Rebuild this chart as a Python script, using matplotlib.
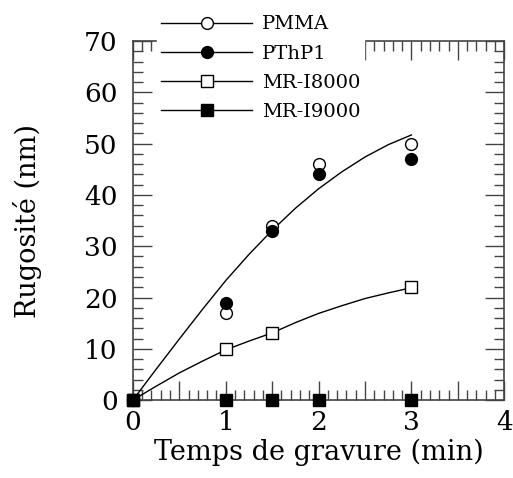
import matplotlib
matplotlib.use('Agg')
import matplotlib.pyplot as plt
from matplotlib.lines import Line2D
from matplotlib.ticker import MultipleLocator, FuncFormatter

plt.rcParams['font.family'] = ['DejaVu Serif']

# Données mesurées
temps = [0, 1, 1.5, 2, 3]
pmma = [0, 17, 34, 46, 50]
pthp1 = [0, 19, 33, 44, 47]
temps_i8000 = [0, 1, 1.5, 3]
mr_i8000 = [0, 10, 13, 22]
mr_i9000 = [0, 0, 0, 0, 0]

# Courbes d'ajustement
fit_x = [0, 0.25, 0.5, 0.75, 1, 1.25, 1.5, 1.75, 2, 2.25, 2.5, 2.75, 3]
fit_haut = [0, 6.0, 11.9, 17.7, 23.3, 28.4, 33.1, 37.4, 41.2, 44.5, 47.4, 49.8, 51.7]
fit_bas = [0, 2.7, 5.3, 7.6, 9.8, 11.5, 13.1, 15.1, 16.9, 18.4, 19.8, 20.9, 21.9]

fig = plt.figure(figsize=(5.13, 4.78), dpi=100)
ax = fig.add_axes([0.259, 0.163, 0.724, 0.751])

ax.plot(fit_x, fit_haut, color='black', lw=1)
ax.plot(fit_x, fit_bas, color='black', lw=1)

ms = 8.5
ax.plot(temps, pmma, 'o', mfc='white', mec='black', ms=ms, clip_on=False, zorder=5)
ax.plot(temps, pthp1, 'o', mfc='black', mec='black', ms=ms, clip_on=False, zorder=5)
ax.plot(temps_i8000, mr_i8000, 's', mfc='white', mec='black', ms=ms, clip_on=False, zorder=5)
ax.plot(temps, mr_i9000, 's', mfc='black', mec='black', ms=ms, clip_on=False, zorder=6)

ax.set_xlim(0, 4)
ax.set_ylim(0, 70)

ax.xaxis.set_major_locator(MultipleLocator(0.5))
ax.xaxis.set_minor_locator(MultipleLocator(0.1))
ax.xaxis.set_major_formatter(FuncFormatter(lambda v, p: '%d' % v if abs(v - round(v)) < 1e-6 else ''))
ax.yaxis.set_major_locator(MultipleLocator(10))
ax.yaxis.set_minor_locator(MultipleLocator(2))

ax.tick_params(which='both', direction='in', top=True, right=True, labelsize=19, color='#444444')
ax.tick_params(which='major', length=14, width=1)
ax.tick_params(which='minor', length=7, width=1)
ax.tick_params(axis='x', which='major', pad=7)
ax.tick_params(axis='y', which='major', pad=11)
for s in ax.spines.values():
    s.set_color('#444444')
    s.set_linewidth(1.2)

ax.set_xlabel('Temps de gravure (min)', fontsize=19.5, labelpad=3)
ax.set_ylabel('Rugosité (nm)', fontsize=19.5, labelpad=30)

handles = [
    Line2D([], [], color='black', lw=1, marker='o', mfc='white', mec='black', ms=ms),
    Line2D([], [], color='black', lw=1, marker='o', mfc='black', mec='black', ms=ms),
    Line2D([], [], color='black', lw=1, marker='s', mfc='white', mec='black', ms=ms),
    Line2D([], [], color='black', lw=1, marker='s', mfc='black', mec='black', ms=ms),
]
labels = ['PMMA', 'PThP1', 'MR-I8000', 'MR-I9000']
leg = fig.legend(handles, labels, loc='upper left', bbox_to_anchor=(0.306, 0.976),
                 frameon=True, fontsize=14, handlelength=4.7, labelspacing=0.58,
                 handletextpad=0.5, borderpad=0.2, borderaxespad=0)
leg.get_frame().set_edgecolor('white')
leg.get_frame().set_facecolor('white')
leg.get_frame().set_alpha(1)
leg.set_zorder(10)

fig.savefig('out.png', dpi=100)
